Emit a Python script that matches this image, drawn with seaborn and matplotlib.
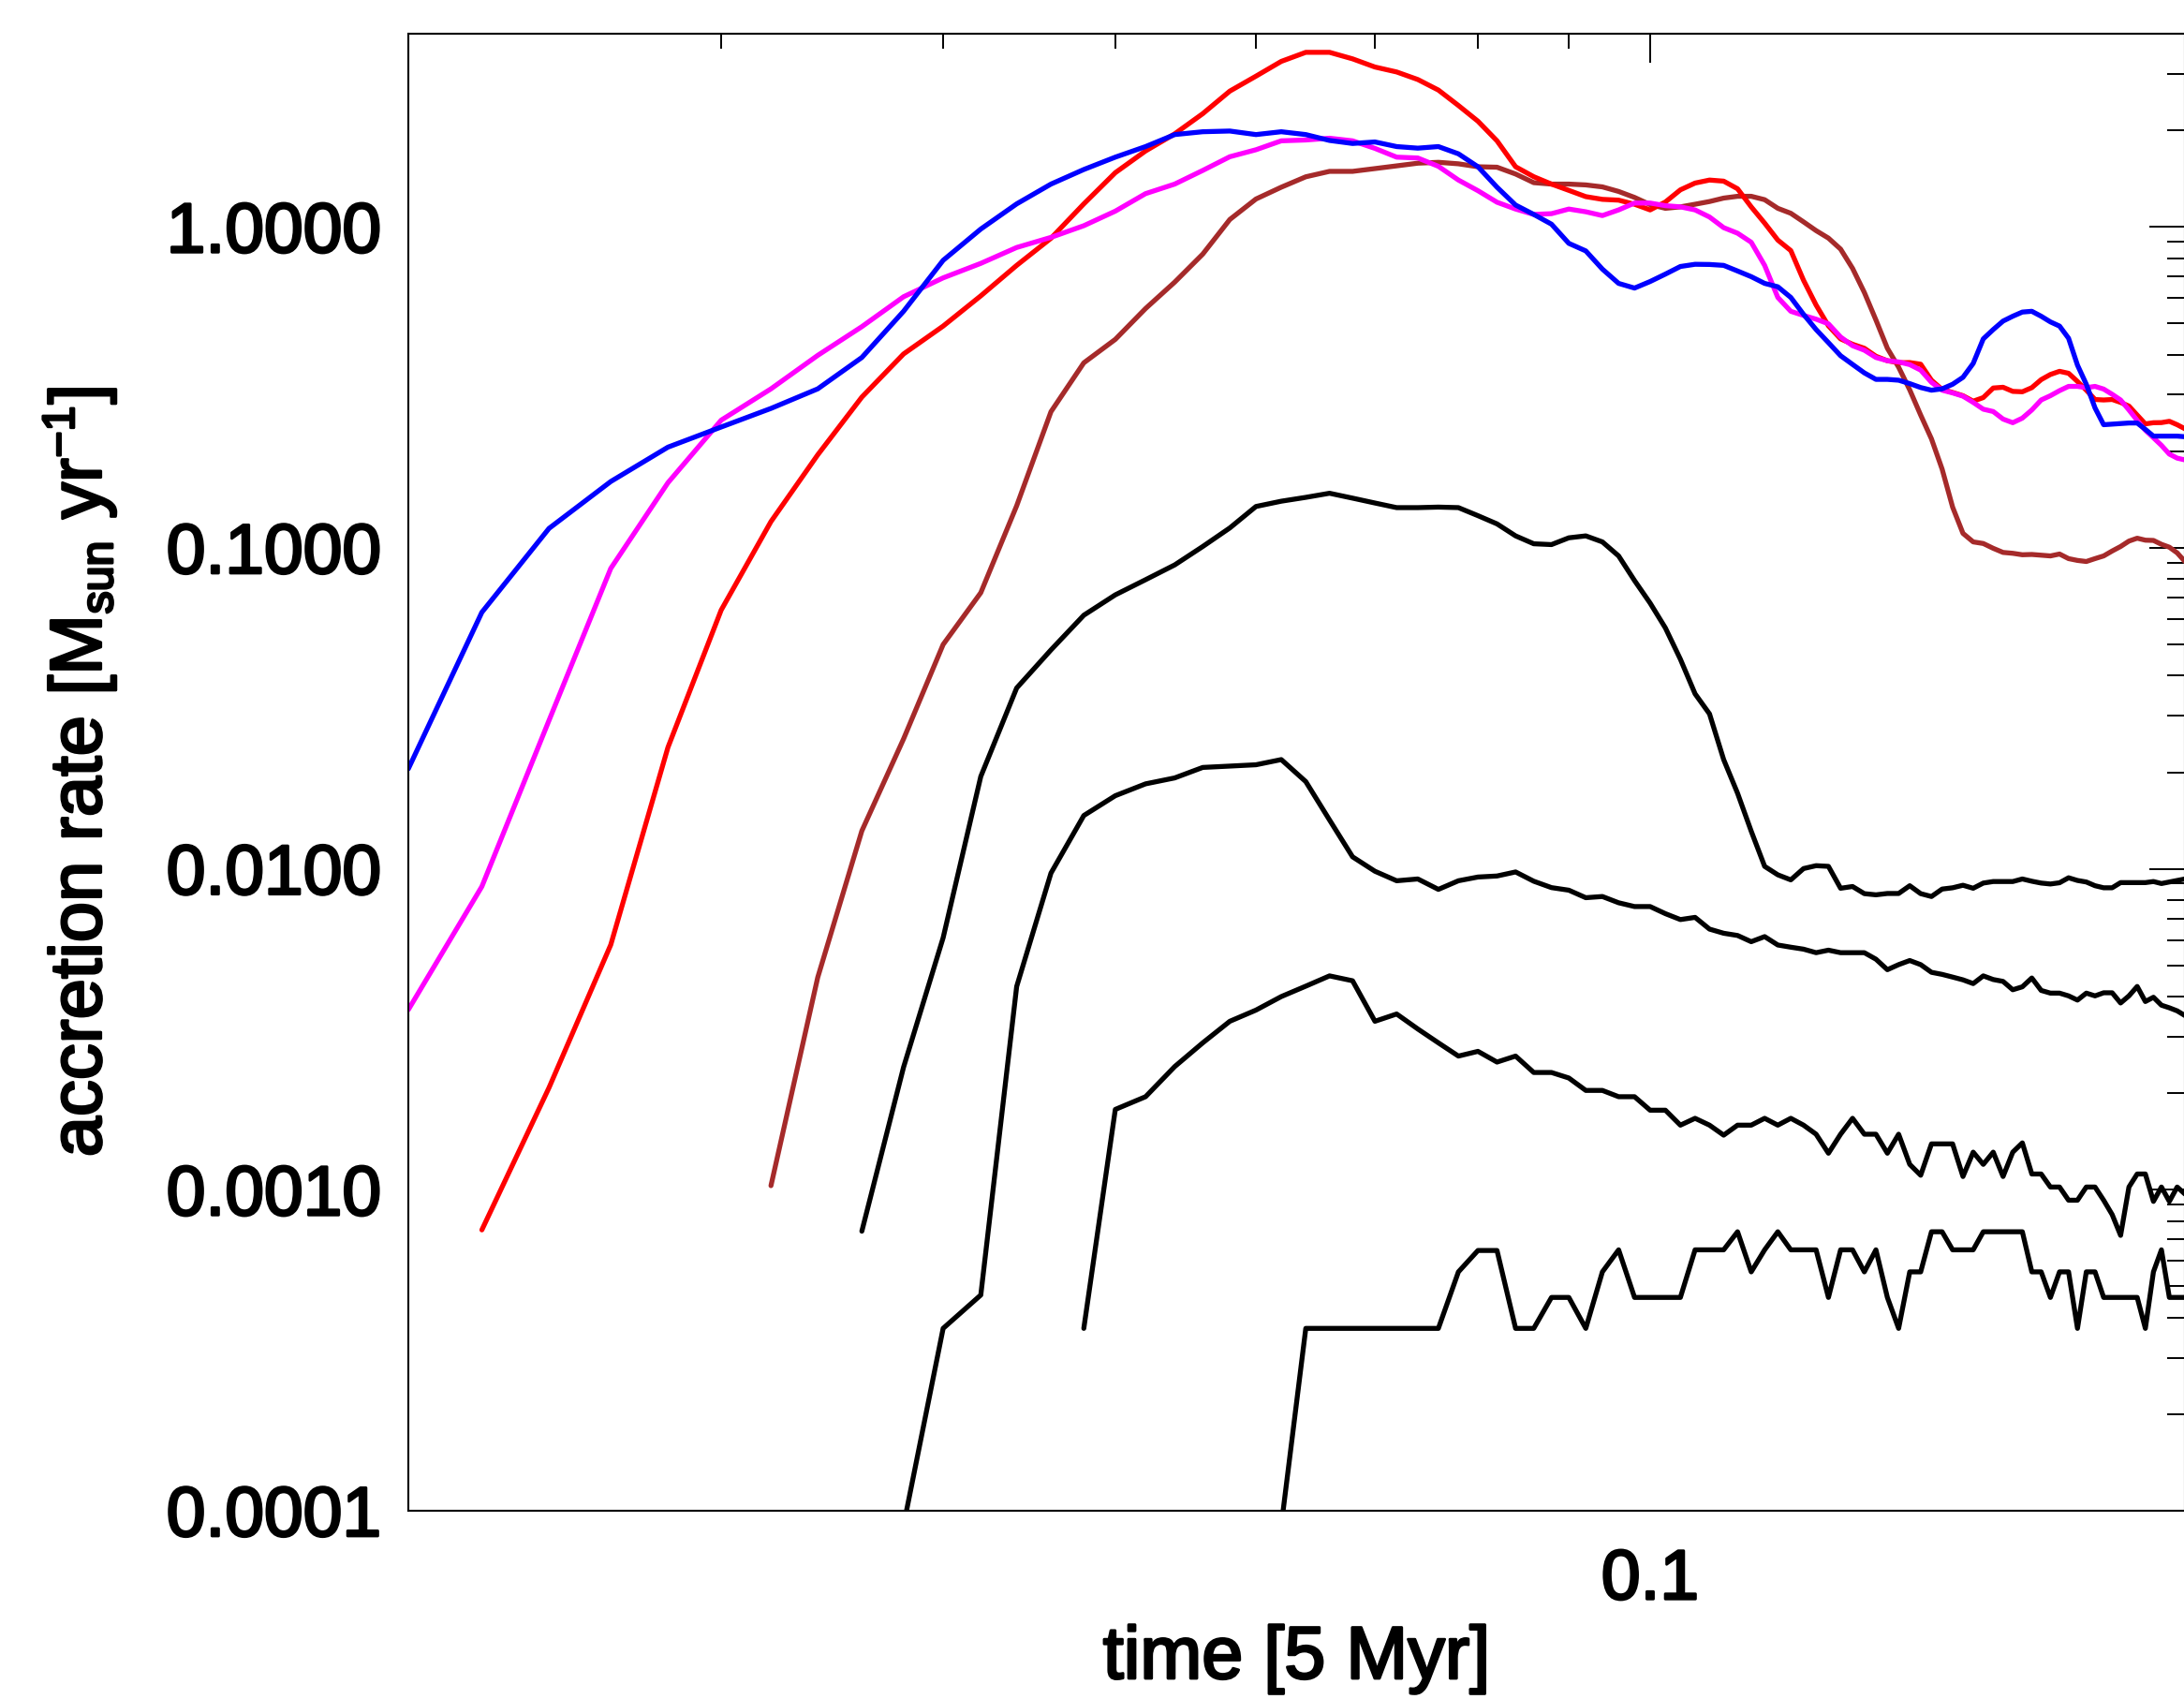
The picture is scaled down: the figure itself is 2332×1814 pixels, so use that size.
import numpy as np
import pandas as pd
import matplotlib
matplotlib.use("Agg")
import matplotlib.pyplot as plt
import matplotlib._mathtext as _mt
import matplotlib.patheffects as pe
import seaborn as sns
from matplotlib.ticker import LogLocator, FuncFormatter, NullFormatter, FixedLocator

# smaller sub/superscripts, closer to the reference label
_mt.SHRINK_FACTOR = 0.62

# ---------------- data ----------------
N = None
time = [0.020, 0.022, 0.024, 0.026, 0.028, 0.030, 0.032, 0.034, 0.036, 0.038,
        0.040, 0.042, 0.044, 0.046, 0.048, 0.050, 0.052, 0.054, 0.056, 0.058,
        0.060, 0.062, 0.064, 0.066, 0.068, 0.070, 0.072, 0.074, 0.076, 0.078,
        0.080, 0.082, 0.084, 0.086, 0.088, 0.090, 0.092, 0.094, 0.096, 0.098,
        0.100, 0.102, 0.104, 0.106, 0.108, 0.110, 0.112, 0.114, 0.116, 0.118,
        0.120, 0.122, 0.124, 0.126, 0.128, 0.130, 0.132, 0.134, 0.136, 0.138,
        0.140, 0.142, 0.144, 0.146, 0.148, 0.150, 0.152, 0.154, 0.156, 0.158,
        0.160, 0.162, 0.164, 0.166, 0.168, 0.170, 0.172, 0.174, 0.176, 0.178,
        0.180, 0.182, 0.184, 0.186, 0.188, 0.190, 0.192, 0.194, 0.196, 0.198,
        0.200]

blue = [0.0205, 0.063, 0.115, 0.161, 0.206, 0.238, 0.272, 0.313, 0.392, 0.546,
        0.787, 0.985, 1.18, 1.36, 1.51, 1.65, 1.78, 1.94, 1.98, 1.99,
        1.94, 1.98, 1.94, 1.86, 1.82, 1.84, 1.78, 1.76, 1.78, 1.69,
        1.54, 1.33, 1.17, 1.094, 1.02, 0.889, 0.842, 0.739, 0.667, 0.645,
        0.676, 0.713, 0.753, 0.765, 0.764, 0.759, 0.729, 0.700, 0.667, 0.651,
        0.603, 0.534, 0.479, 0.436, 0.397, 0.373, 0.351, 0.335, 0.335, 0.333,
        0.325, 0.316, 0.310, 0.313, 0.3235, 0.340, 0.3756, 0.448, 0.479, 0.509,
        0.527, 0.543, 0.546, 0.527, 0.506, 0.491, 0.450, 0.371, 0.3235, 0.273,
        0.242, 0.243, 0.244, 0.245, 0.245, 0.234, 0.223, 0.223, 0.223, 0.223,
        0.222]

magenta = [0.00364, 0.00881, 0.029, 0.0863, 0.1596, 0.250, 0.313, 0.398, 0.489, 0.606,
           0.694, 0.770, 0.863, 0.928, 1.009, 1.12, 1.27, 1.36, 1.50, 1.655,
           1.74, 1.855, 1.866, 1.89, 1.855, 1.757, 1.65, 1.64, 1.545, 1.40,
           1.297, 1.194, 1.137, 1.094, 1.10, 1.137, 1.115, 1.085, 1.13, 1.187,
           1.187, 1.165, 1.155, 1.13, 1.074, 0.995, 0.956, 0.896, 0.759, 0.603,
           0.546, 0.530, 0.516, 0.499, 0.454, 0.4266, 0.413, 0.392, 0.383, 0.3797,
           0.3725, 0.358, 0.328, 0.310, 0.304, 0.297, 0.284, 0.2705, 0.266, 0.252,
           0.2455, 0.2537, 0.269, 0.289, 0.298, 0.309, 0.3186, 0.3186, 0.3157, 0.3186,
           0.3125, 0.301, 0.289, 0.269, 0.2496, 0.2326, 0.2204, 0.2087, 0.196, 0.1904,
           0.188]

red = [N, 0.00075, 0.00208, 0.0058, 0.0239, 0.064, 0.1208, 0.195, 0.295, 0.402,
       0.491, 0.610, 0.759, 0.922, 1.18, 1.476, 1.725, 1.95, 2.254, 2.65,
       2.95, 3.28, 3.50, 3.50, 3.34, 3.15, 3.04, 2.88, 2.67, 2.39,
       2.135, 1.855, 1.54, 1.434, 1.36, 1.30, 1.243, 1.219, 1.212, 1.177,
       1.13, 1.196, 1.305, 1.37, 1.40, 1.389, 1.315, 1.155, 1.028, 0.91,
       0.844, 0.682, 0.571, 0.492, 0.448, 0.431, 0.4188, 0.3955, 0.383, 0.3776,
       0.378, 0.3735, 0.333, 0.3116, 0.305, 0.298, 0.2865, 0.294, 0.3149, 0.3166,
       0.3074, 0.3065, 0.3157, 0.3344, 0.347, 0.355, 0.350, 0.33, 0.310, 0.290,
       0.289, 0.290, 0.284, 0.2766, 0.2593, 0.2434, 0.2455, 0.2457, 0.248, 0.242,
       0.235]

brown = [N, N, N, N, N, N, 0.00103, 0.00459, 0.01313, 0.0254,
         0.050, 0.0725, 0.1353, 0.2657, 0.3773, 0.4464, 0.557, 0.673, 0.823, 1.055,
         1.222, 1.33, 1.433, 1.49, 1.49, 1.52, 1.55, 1.58, 1.59, 1.573,
         1.54, 1.535, 1.462, 1.374, 1.36, 1.36, 1.352, 1.333, 1.29, 1.236,
         1.174, 1.143, 1.155, 1.177, 1.2, 1.23, 1.246, 1.246, 1.216, 1.143,
         1.103, 1.037, 0.974, 0.923, 0.853, 0.743, 0.625, 0.513, 0.4188, 0.3656,
         0.3107, 0.2593, 0.2186, 0.176, 0.134, 0.111, 0.1044, 0.1032, 0.0997, 0.0968,
         0.0962, 0.0952, 0.0954, 0.0949, 0.0944, 0.0957, 0.0926, 0.0914, 0.0907, 0.0926,
         0.0944, 0.0978, 0.101, 0.105, 0.1072, 0.1057, 0.1055, 0.1026, 0.1005, 0.0965,
         0.0907]

black1 = [N, N, N, N, N, N, N, N, 0.000743, 0.00241,
          0.0061, 0.0194, 0.0366, 0.0481, 0.0617, 0.0714, 0.0796, 0.0885, 0.101, 0.1154,
          0.1346, 0.1398, 0.1437, 0.148, 0.1429, 0.138, 0.1335, 0.1335, 0.134, 0.1335,
          0.126, 0.1188, 0.109, 0.103, 0.1024, 0.1075, 0.109, 0.1044, 0.0944, 0.0791,
          0.0673, 0.0563, 0.045, 0.0351, 0.0304, 0.0219, 0.0172, 0.0131, 0.01018, 0.00958,
          0.00924, 0.01002, 0.01023, 0.01018, 0.0087, 0.00881, 0.00837, 0.0083, 0.00838, 0.00838,
          0.00886, 0.00837, 0.0082, 0.00865, 0.00873, 0.00889, 0.0087, 0.00903, 0.00913, 0.00913,
          0.00913, 0.0093, 0.00915, 0.00903, 0.00897, 0.00905, 0.00938, 0.0092, 0.0091, 0.00886,
          0.00873, 0.00873, 0.00906, 0.00906, 0.00906, 0.00906, 0.00913, 0.009, 0.0091, 0.0092,
          0.0093]

black2 = [N, N, N, N, N, N, N, N, N, 0.00009,
          0.00037, 0.00047, 0.0043, 0.0097, 0.01466, 0.0169, 0.0184, 0.0192, 0.0207, 0.0209,
          0.0211, 0.0219, 0.0187, 0.0142, 0.0109, 0.00983, 0.00918, 0.0093, 0.00863, 0.00918,
          0.00943, 0.0095, 0.00978, 0.00915, 0.00874, 0.00858, 0.00813, 0.0082, 0.00784, 0.00763,
          0.00763, 0.00725, 0.00695, 0.00706, 0.00649, 0.0063, 0.0062, 0.00593, 0.00615, 0.00579,
          0.0057, 0.00562, 0.00548, 0.00558, 0.00548, 0.00548, 0.00548, 0.00523, 0.00485, 0.00503,
          0.00518, 0.00503, 0.00476, 0.00469, 0.0046, 0.00451, 0.00439, 0.00464, 0.00452, 0.00446,
          0.0042, 0.00429, 0.00457, 0.00418, 0.0041, 0.0041, 0.00402, 0.0039, 0.0041, 0.00402,
          0.00411, 0.00411, 0.00382, 0.00402, 0.0043, 0.00386, 0.00398, 0.00376, 0.00369, 0.00361,
          0.00349]

black3 = [N, N, N, N, N, N, N, N, N, N,
          N, N, N, N, 0.00037, 0.00178, 0.00195, 0.00242, 0.00287, 0.00335,
          0.00363, 0.004, 0.00431, 0.00464, 0.00448, 0.00335, 0.00353, 0.00317, 0.00287, 0.00261,
          0.0027, 0.0025, 0.00261, 0.00232, 0.00232, 0.00223, 0.00204, 0.00204, 0.00195, 0.00195,
          0.00177, 0.00177, 0.00159, 0.00167, 0.00159, 0.00148, 0.00159, 0.00159, 0.00167, 0.00159,
          0.00167, 0.00159, 0.00149, 0.0013, 0.00149, 0.00167, 0.00149, 0.00149, 0.0013, 0.00149,
          0.0012, 0.00111, 0.00139, 0.00139, 0.00139, 0.0011, 0.00131, 0.0012, 0.00131, 0.0011,
          0.00131, 0.0014, 0.00112, 0.00112, 0.00102, 0.00102, 0.000928, 0.000928, 0.00102, 0.00102,
          0.000928, 0.000837, 0.000721, 0.00102, 0.00112, 0.00112, 0.00092, 0.00102, 0.00092, 0.00102,
          0.00097]

black4 = [N, N, N, N, N, N, N, N, N, N,
          N, N, N, N, N, N, N, N, N, N,
          N, 0.00009, 0.00037, 0.00037, 0.00037, 0.00037, 0.00037, 0.00037, 0.00037, 0.000555,
          0.000647, 0.000647, 0.00037, 0.00037, 0.000462, 0.000462, 0.00037, 0.000555, 0.00065, 0.000462,
          0.000462, 0.000462, 0.000462, 0.00065, 0.00065, 0.00065, 0.00074, 0.000555, 0.00065, 0.00074,
          0.00065, 0.00065, 0.00065, 0.000462, 0.00065, 0.00065, 0.000555, 0.00065, 0.000462, 0.00037,
          0.000555, 0.000555, 0.00074, 0.00074, 0.00065, 0.00065, 0.00065, 0.00074, 0.00074, 0.00074,
          0.00074, 0.00074, 0.000555, 0.000555, 0.000462, 0.000555, 0.000555, 0.00037, 0.000555, 0.000555,
          0.000462, 0.000462, 0.000462, 0.000462, 0.000462, 0.00037, 0.000555, 0.00065, 0.000462, 0.000462,
          0.000462]

series = {
    "black4": black4, "black3": black3, "black2": black2, "black1": black1,
    "brown": brown, "red": red, "magenta": magenta, "blue": blue,
}
palette = {
    "black4": "#000000", "black3": "#000000", "black2": "#000000", "black1": "#000000",
    "brown": "#A52A2A", "red": "#FF0000", "magenta": "#FF00FF", "blue": "#0000FF",
}
y_ticks = [0.0001, 0.001, 0.01, 0.1, 1.0]
x_ticks = [0.1]

frames = []
for name, vals in series.items():
    frames.append(pd.DataFrame({"time": time, "rate": vals, "run": name}))
df = pd.concat(frames, ignore_index=True)
df["rate"] = pd.to_numeric(df["rate"])
df = df.dropna()

# ---------------- styling ----------------
sns.set_style("white")
plt.rcParams["font.family"] = ["Liberation Sans", "DejaVu Sans"]
plt.rcParams["mathtext.default"] = "regular"
for k in ("text.color", "axes.labelcolor", "xtick.color", "ytick.color", "axes.edgecolor"):
    plt.rcParams[k] = "black"

W, H = 2332, 1815
fig = plt.figure(figsize=(W / 100, H / 100), dpi=100)
L, R, T, B = 436, 2333, 37, 1614
ax = fig.add_axes([L / W, 1 - B / H, (R - L) / W, (B - T) / H])
ax.set_xscale("log")
ax.set_yscale("log")

sns.lineplot(data=df, x="time", y="rate", hue="run", hue_order=list(series.keys()),
             palette=palette, estimator=None, sort=False, legend=False,
             linewidth=3.8, ax=ax)

ax.set_xlim(0.02, 0.2)
ax.set_ylim(1e-4, 4.0)

ax.yaxis.set_major_locator(FixedLocator(y_ticks))
ax.yaxis.set_major_formatter(FuncFormatter(lambda v, p: f"{v:.4f}"))
ax.yaxis.set_minor_locator(LogLocator(base=10, subs=np.arange(2, 10), numticks=20))
ax.yaxis.set_minor_formatter(NullFormatter())
ax.xaxis.set_major_locator(FixedLocator(x_ticks))
ax.xaxis.set_major_formatter(FuncFormatter(lambda v, p: f"{v:g}"))
ax.xaxis.set_minor_locator(LogLocator(base=10, subs=np.arange(2, 10), numticks=20))
ax.xaxis.set_minor_formatter(NullFormatter())

for s in ax.spines.values():
    s.set_linewidth(1.5)
    s.set_color("black")

ax.tick_params(which="both", direction="in", top=True, right=True, color="black", width=1.4)
ax.tick_params(axis="x", which="major", length=22.5, pad=29, labelsize=54)
ax.tick_params(axis="x", which="minor", length=11.2)
ax.tick_params(axis="y", which="major", length=27.3, pad=21, labelsize=54)
ax.tick_params(axis="y", which="minor", length=13.6)

heavy = [pe.withStroke(linewidth=2.0, foreground="black")]
for lab in ax.get_xticklabels() + ax.get_yticklabels():
    lab.set_path_effects(heavy)

ax.set_xlabel("time [5 Myr]", fontsize=57, va="baseline")
ax.set_ylabel(r"accretion rate [M$_{sun}$ yr$^{-1}$]", fontsize=56, va="baseline")
ax.xaxis.label.set_path_effects(heavy)
ax.yaxis.label.set_path_effects(heavy)
ax.xaxis.set_label_coords(0.5, -(1793 - B) / (B - T))
ax.yaxis.set_label_coords((108 - L) / (R - L), 0.5)

ax.grid(False)
fig.savefig("out.png", dpi=100, facecolor="white")
